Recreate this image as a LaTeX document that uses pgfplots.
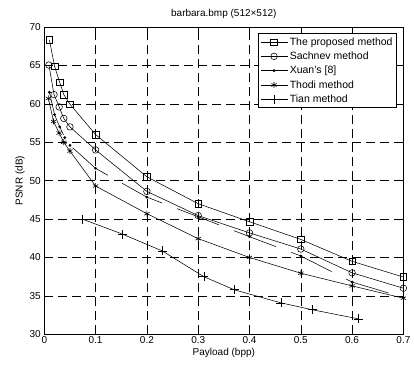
\documentclass[border=0pt]{standalone}
\usepackage{fontspec}
\setmainfont{Liberation Sans}
\usepackage{pgfplots}
\pgfplotsset{compat=1.18}
\begin{document}
\fontsize{10bp}{12bp}\selectfont
\begin{tikzpicture}
\begin{axis}[
  scale only axis, width=359.1bp, height=307.3bp,
  xmin=0, xmax=0.7, ymin=30, ymax=70,
  xtick={0,0.1,0.2,0.3,0.4,0.5,0.6,0.7},
  xticklabels={0,0.1,0.2,0.3,0.4,0.5,0.6,0.7},
  ytick={30,35,40,45,50,55,60,65,70},
  /pgf/number format/assume math mode=true,
  grid=major,
  major grid style={black, line width=0.5bp, dash pattern=on 9bp off 5bp},
  tick align=inside, tick pos=both, major tick length=4bp,
  tick style={black, line width=0.6bp},
  axis line style={line width=0.8bp},
  ticklabel style={font=\fontsize{10bp}{12bp}\selectfont},
  xticklabel style={yshift=1bp},
  title={barbara.bmp (512×512)},
  title style={font=\fontsize{10bp}{12bp}\selectfont, yshift=-1bp},
  xlabel={Payload (bpp)},
  ylabel={PSNR (dB)},
  label style={font=\fontsize{10bp}{12bp}\selectfont},
  xlabel style={yshift=3bp},
  ylabel style={yshift=-2bp},
  legend cell align=left,
  legend style={at={(0.982,0.98)}, anchor=north east, draw=black, line width=0.8bp,
    font=\fontsize{10.5bp}{12bp}\selectfont, row sep=1.2bp, inner sep=2bp},
  legend image code/.code={\draw[mark repeat=2,mark phase=2,#1] plot coordinates {(0bp,0bp)(13.5bp,0bp)(27bp,0bp)};},
  every axis plot/.append style={black, line width=0.55bp},
]
\addplot[mark=square, mark size=3.3bp, mark options={solid, line width=0.55bp}] coordinates {
(0.01,68.3)(0.02,64.9)(0.03,62.8)(0.038,61.2)(0.05,59.95)(0.1,56.0)(0.2,50.5)(0.3,47.0)(0.4,44.65)(0.5,42.35)(0.6,39.5)(0.7,37.45)};
\addlegendentry{The proposed method}
\addplot[mark=o, mark size=3.3bp, mark options={solid, line width=0.55bp}] coordinates {
(0.009,65.05)(0.019,61.2)(0.029,59.6)(0.038,58.1)(0.05,57.0)(0.1,54.0)(0.2,48.6)(0.3,45.45)(0.4,43.2)(0.5,41.1)(0.6,38.0)(0.7,36.0)};
\addlegendentry{Sachnev method}
\addplot[mark=*, mark size=1.1bp, dash pattern=on 45bp off 16bp, mark options={solid}] coordinates {
(0.01,61.5)(0.02,58.6)(0.03,57.0)(0.04,55.6)(0.05,54.6)(0.1,51.6)(0.2,47.85)(0.3,45.3)(0.4,42.7)(0.5,40.2)(0.6,36.8)(0.7,34.8)};
\addlegendentry{Xuan's [8]}
\addplot[mark=asterisk, mark size=3bp, mark options={solid, line width=0.6bp}] coordinates {
(0.008,60.7)(0.018,57.7)(0.029,56.2)(0.038,55.0)(0.05,53.85)(0.1,49.3)(0.2,45.7)(0.3,42.45)(0.4,40.0)(0.5,37.95)(0.6,36.3)(0.7,34.7)};
\addlegendentry{Thodi method}
\addplot[mark=+, mark size=4.5bp, mark options={solid, line width=0.55bp}] coordinates {
(0.074,45.0)(0.152,43.05)(0.23,40.85)(0.311,37.5)(0.37,35.8)(0.461,34.1)(0.522,33.2)(0.613,32.0)};
\addlegendentry{Tian method}
\end{axis}
\useasboundingbox (-44.3bp,-33.7bp) rectangle (369.7bp,334.3bp);
\end{tikzpicture}
\end{document}
